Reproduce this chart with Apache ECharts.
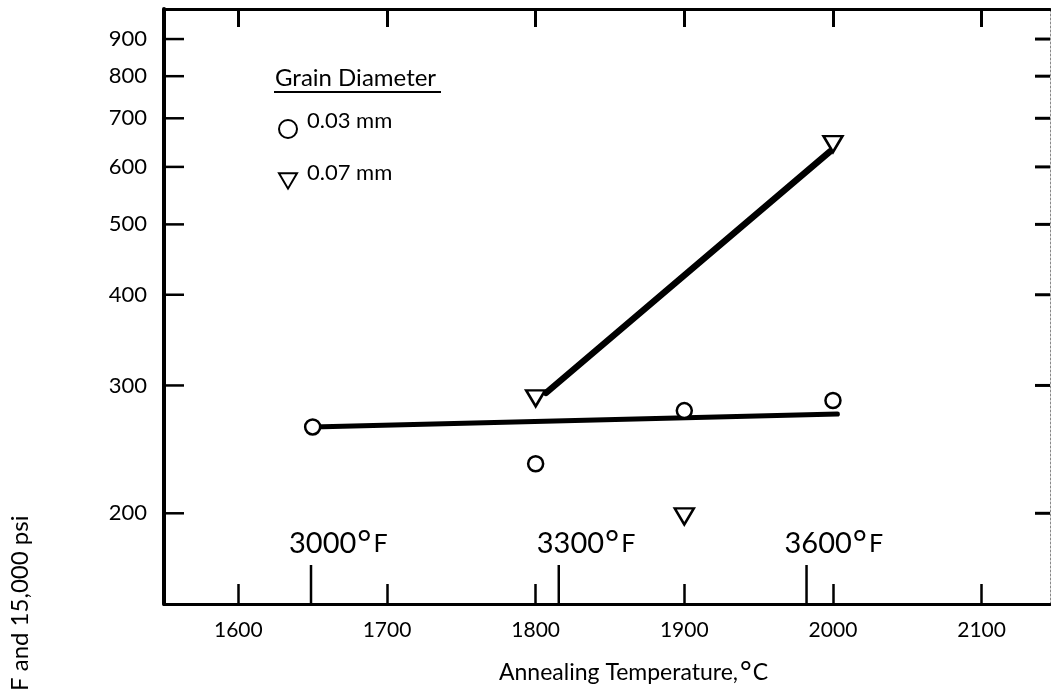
<!DOCTYPE html>
<html>
<head>
<meta charset="utf-8">
<title>Grain Diameter vs Annealing Temperature</title>
<script src="https://cdn.jsdelivr.net/npm/echarts@6.0.0/dist/echarts.min.js"></script>
<style>
    html, body { margin: 0; padding: 0; background: #fff; }
    #echart1 { width: 1051px; height: 691px; }
</style>
</head>
<body>
<div id="echart1"></div>
<script>
// 读图得到的数据
var fineTemp = [1650, 1800, 1900, 2000];      // 0.03 mm 点
var fineVal = [263, 234, 277, 286];
var coarseTemp = [1800, 1900, 2000];          // 0.07 mm 点
var coarseVal = [288, 198, 645];
var fineFitTemp = [1650, 2003];               // 拟合直线
var fineFitVal = [263, 274];
var coarseFitTemp = [1807, 1998];
var coarseFitVal = [293, 630];
var xTicks = [1600, 1700, 1800, 1900, 2000, 2100];
var yTicks = [200, 300, 400, 500, 600, 700, 800, 900];
var fTicks = [3000, 3300, 3600];

var FONT = 'Lato, "DejaVu Sans", sans-serif';
var DOWN_TRI = 'path://M0,0 L20,0 L10,17 Z';

function pairs(xs, ys) {
    var out = [];
    for (var i = 0; i < xs.length; i++) out.push([xs[i], ys[i]]);
    return out;
}

echarts_1();

function echarts_1() {
    var myChart = echarts.init(document.getElementById('echart1'));

    var option = {
        animation: false,
        backgroundColor: '#fff',
        grid: { left: 164, right: 1, top: 9, bottom: 87 },
        legend: {
            data: [{ name: '0.03 mm', icon: 'circle' }, { name: '0.07 mm', icon: DOWN_TRI }],
            orient: 'vertical',
            left: 273,
            top: 105,
            itemWidth: 18,
            itemHeight: 18,
            itemGap: 23,
            formatter: '{a|{name}}',
            textStyle: {
                color: '#000',
                fontSize: 22,
                fontFamily: FONT,
                rich: { a: { fontSize: 22, fontFamily: FONT, color: '#000', padding: [0, 0, 16, 5] } }
            }
        },
        graphic: [
            {
                type: 'text', left: 275, top: 66,
                style: { text: 'Grain Diameter', fontSize: 24, fontFamily: FONT, fill: '#000' }
            },
            {
                type: 'line',
                shape: { x1: 274, y1: 92, x2: 441, y2: 92 },
                style: { stroke: '#000', lineWidth: 2 }
            },
            {
                type: 'text', left: 499, top: 659,
                style: {
                    text: '{t|Annealing Temperature,}{d|°}{t|C}',
                    rich: {
                        t: { fontSize: 23, fontFamily: FONT, fill: '#000' },
                        d: { fontSize: 28, fontFamily: FONT, fill: '#000', padding: [0, 1, 0, 2] }
                    }
                }
            },
            {
                type: 'text', x: 20, y: 691, rotation: Math.PI / 2,
                style: { text: 'F and 15,000 psi', fontSize: 24, fontFamily: FONT, fill: '#000', align: 'left', verticalAlign: 'middle' }
            }
        ],
        xAxis: [{
            type: 'value',
            min: 1550,
            max: 2146,
            position: 'bottom',
            splitLine: { show: false },
            axisLine: { lineStyle: { color: '#000', width: 3 } },
            axisTick: { inside: true, length: 20, customValues: xTicks, lineStyle: { color: '#000', width: 2.5 } },
            axisLabel: {
                customValues: xTicks, color: '#000', fontSize: 21, fontFamily: FONT, margin: 16,
                formatter: function (v) { return String(v); }
            }
        }, {
            type: 'value',
            min: 1550,
            max: 2146,
            position: 'top',
            splitLine: { show: false },
            axisLine: { lineStyle: { color: '#000', width: 3 } },
            axisTick: { inside: true, length: 18, customValues: xTicks, lineStyle: { color: '#000', width: 3 } },
            axisLabel: { show: false }
        }],
        yAxis: [{
            type: 'log',
            min: 150,
            max: 990,
            position: 'left',
            splitLine: { show: false },
            axisLine: { lineStyle: { color: '#000', width: 4 } },
            axisTick: { show: false },
            axisLabel: { show: false }
        }, {
            type: 'log',
            min: 150,
            max: 990,
            position: 'right',
            splitLine: { show: false },
            axisLine: { lineStyle: { color: '#888', width: 1, type: [2, 2] } },
            axisTick: { show: false },
            axisLabel: { show: false }
        }],
        series: [
            {
                // 纵轴刻度和数值（左右两侧）
                name: 'yticks',
                type: 'custom',
                z: 1,
                silent: true,
                data: pairs(yTicks.map(function () { return 1600; }), yTicks),
                renderItem: function (params, api) {
                    var cs = params.coordSys;
                    var y = api.coord([api.value(0), api.value(1)])[1];
                    return {
                        type: 'group',
                        children: [
                            { type: 'line', shape: { x1: cs.x, y1: y, x2: cs.x + 20, y2: y }, style: { stroke: '#000', lineWidth: 2.5 } },
                            { type: 'line', shape: { x1: cs.x + cs.width - 15, y1: y, x2: cs.x + cs.width, y2: y }, style: { stroke: '#000', lineWidth: 3 } },
                            {
                                type: 'text', x: cs.x - 17, y: y,
                                style: { text: String(api.value(1)), align: 'right', verticalAlign: 'middle', fontSize: 22, fontFamily: FONT, fill: '#000' }
                            }
                        ]
                    };
                }
            },
            {
                // 华氏温度刻度
                name: 'fticks',
                type: 'custom',
                z: 1,
                silent: true,
                data: pairs(fTicks.map(function (f) { return (f - 32) * 5 / 9; }), fTicks),
                renderItem: function (params, api) {
                    var cs = params.coordSys;
                    var x = api.coord([api.value(0), 200])[0];
                    var bottom = cs.y + cs.height;
                    return {
                        type: 'group',
                        children: [
                            { type: 'line', shape: { x1: x, y1: bottom, x2: x, y2: bottom - 39 }, style: { stroke: '#000', lineWidth: 2.5 } },
                            {
                                type: 'text', x: x - 22, y: bottom - 60,
                                style: {
                                    text: '{n|' + api.value(1) + '}{d|°}{f|F}',
                                    align: 'left',
                                    verticalAlign: 'middle',
                                    rich: {
                                        n: { fontSize: 29, fontFamily: FONT, fill: '#000' },
                                        d: { fontSize: 34, fontFamily: FONT, fill: '#000', padding: [0, 2, 0, 1] },
                                        f: { fontSize: 25, fontFamily: FONT, fill: '#000' }
                                    }
                                }
                            }
                        ]
                    };
                }
            },
            {
                name: 'fit 0.03',
                type: 'line',
                z: 2,
                silent: true,
                symbol: 'none',
                lineStyle: { color: '#000', width: 5, cap: 'round' },
                data: pairs(fineFitTemp, fineFitVal)
            },
            {
                name: 'fit 0.07',
                type: 'line',
                z: 2,
                silent: true,
                symbol: 'none',
                lineStyle: { color: '#000', width: 6.5, cap: 'round' },
                data: pairs(coarseFitTemp, coarseFitVal)
            },
            {
                name: '0.03 mm',
                type: 'scatter',
                z: 3,
                symbol: 'circle',
                symbolSize: 15,
                itemStyle: { color: '#fff', borderColor: '#000', borderWidth: 2.5, opacity: 1 },
                data: pairs(fineTemp, fineVal)
            },
            {
                name: '0.07 mm',
                type: 'scatter',
                z: 3,
                symbol: 'triangle',
                symbolRotate: 180,
                symbolSize: [19, 16],
                itemStyle: { color: '#fff', borderColor: '#000', borderWidth: 2.5, opacity: 1 },
                data: pairs(coarseTemp, coarseVal)
            }
        ]
    };

    myChart.setOption(option);
    window.addEventListener("resize", function () {
        myChart.resize();
    });
}
</script>
</body>
</html>
